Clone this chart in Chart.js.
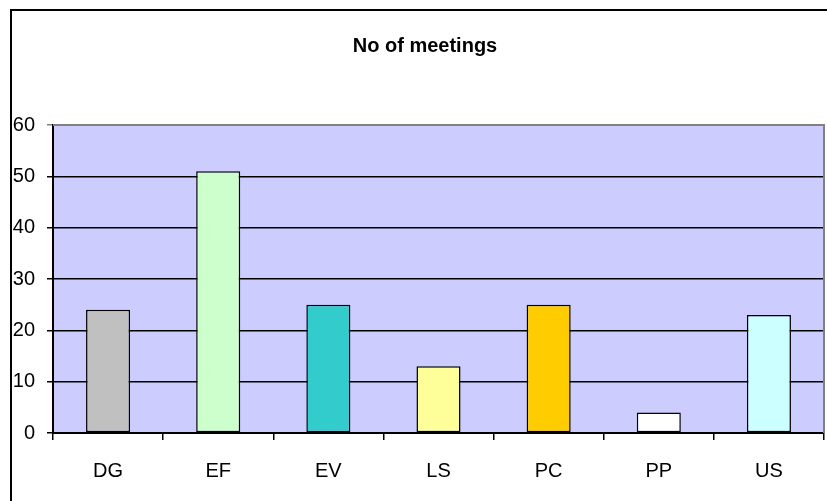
<!DOCTYPE html>
<html lang="en">
<head>
    <meta charset="UTF-8">
    <title>No of meetings</title>
    <script src="https://cdn.jsdelivr.net/npm/chart.js"></script>
    <style>
        html, body { margin: 0; padding: 0; background: #fff; }
        #wrap { width: 827px; height: 501px; position: relative; }
    </style>
</head>
<body>
    <div id="wrap"><canvas id="meetingChart"></canvas></div>

    <script>
        // data
        const groups = ['DG', 'EF', 'EV', 'LS', 'PC', 'PP', 'US'];
        const meetings = [24, 51, 25, 13, 25, 4, 23];
        const barColours = ['#C0C0C0', '#CCFFCC', '#33CCCC', '#FFFF99', '#FFCC00', '#FFFFFF', '#CCFFFF'];
        const yTicks = [0, 10, 20, 30, 40, 50, 60];
        const chartTitle = 'No of meetings';

        const fontFamily = '"Liberation Sans", Arial, sans-serif';

        // plot background, outer frame and the title
        const framePlugin = {
            id: 'frame',
            beforeDraw(chart) {
                const { ctx, chartArea: a } = chart;
                ctx.save();
                ctx.fillStyle = '#CCCCFF';
                ctx.fillRect(a.left, a.top, a.right - a.left, a.bottom - a.top);
                // outer border (top + left only, the rest is cut off)
                ctx.strokeStyle = '#000';
                ctx.lineWidth = 2;
                ctx.beginPath();
                ctx.moveTo(11, 501);
                ctx.lineTo(11, 10);
                ctx.lineTo(827, 10);
                ctx.stroke();
                // title
                ctx.fillStyle = '#000';
                ctx.font = 'bold 20px ' + fontFamily;
                ctx.textAlign = 'center';
                ctx.textBaseline = 'middle';
                ctx.fillText(chartTitle, 425, 46);
                ctx.restore();
            },
            afterDraw(chart) {
                const { ctx, chartArea: a } = chart;
                ctx.save();
                ctx.strokeStyle = '#808080';
                ctx.lineWidth = 2;
                ctx.beginPath();
                ctx.moveTo(a.left, a.top);
                ctx.lineTo(a.right, a.top);
                ctx.lineTo(a.right, a.bottom);
                ctx.stroke();
                ctx.restore();
            }
        };

        const ctx = document.getElementById('meetingChart').getContext('2d');
        new Chart(ctx, {
            type: 'bar',
            data: {
                labels: groups,
                datasets: [{
                    label: chartTitle,
                    data: meetings,
                    backgroundColor: barColours,
                    borderColor: '#000',
                    borderWidth: 1.5,
                    borderSkipped: false,
                    barPercentage: 0.4,
                    categoryPercentage: 1.0
                }]
            },
            options: {
                responsive: true,
                maintainAspectRatio: false,
                animation: false,
                layout: { padding: { left: 12, right: 3, top: 125, bottom: 0 } },
                plugins: {
                    legend: { display: false },
                    tooltip: { enabled: false },
                    title: { display: false }
                },
                scales: {
                    x: {
                        offset: true,
                        border: { color: '#000', width: 2 },
                        grid: {
                            offset: true,
                            drawOnChartArea: false,
                            drawTicks: true,
                            tickLength: 7,
                            color: '#000',
                            lineWidth: 1.5
                        },
                        ticks: {
                            color: '#000',
                            padding: 19,
                            font: { family: fontFamily, size: 20 }
                        },
                        afterFit(axis) { axis.height = 68; }
                    },
                    y: {
                        min: 0,
                        max: 60,
                        border: { color: '#000', width: 2 },
                        grid: {
                            color: (c) => c.tick && c.tick.value === 60 ? '#808080' : '#000',
                            lineWidth: 1.5,
                            tickLength: 6
                        },
                        afterBuildTicks(axis) {
                            axis.ticks = yTicks.map(v => ({ value: v }));
                        },
                        ticks: {
                            color: '#000',
                            padding: 12,
                            font: { family: fontFamily, size: 20 }
                        },
                        afterFit(axis) { axis.width = 41; }
                    }
                }
            },
            plugins: [framePlugin]
        });
    </script>
</body>
</html>
